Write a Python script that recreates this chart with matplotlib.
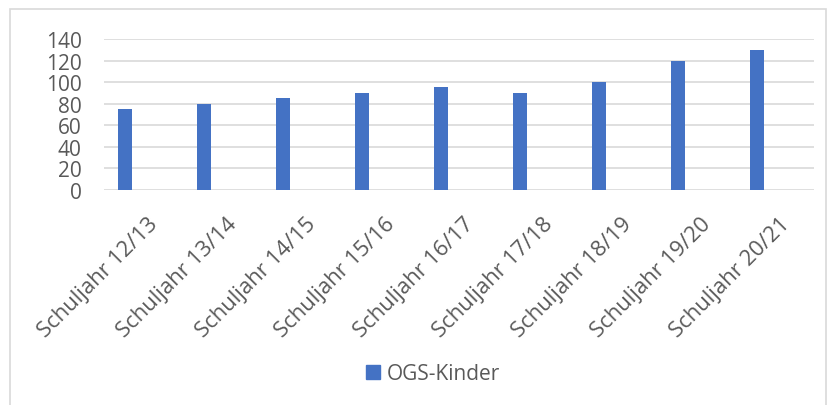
import matplotlib
matplotlib.use('Agg')
import matplotlib.pyplot as plt
import matplotlib.transforms as mtransforms
from matplotlib.patches import Rectangle, Patch

GRAY_TXT = '#595959'
GRID = '#D9D9D9'
BLUE = '#4472C4'

plt.rcParams['font.family'] = ['Open Sans', 'DejaVu Sans']

# Data
years = ['Schuljahr 12/13', 'Schuljahr 13/14', 'Schuljahr 14/15', 'Schuljahr 15/16',
         'Schuljahr 16/17', 'Schuljahr 17/18', 'Schuljahr 18/19', 'Schuljahr 19/20',
         'Schuljahr 20/21']
ogs_kinder = [75, 80, 85, 90, 95, 90, 100, 120, 130]
yticks = [0, 20, 40, 60, 80, 100, 120, 140]

fig = plt.figure(figsize=(8.31, 4.06), dpi=100)
ax = fig.add_axes([0.125, 0.5296, 0.8545, 0.372])

x = range(len(years))
ax.bar(x, ogs_kinder, width=0.17, color=BLUE, zorder=3)

ax.set_ylim(0, 140)
ax.set_xlim(-0.27, 8.72)
ax.set_yticks(yticks)
ax.yaxis.grid(True, color=GRID, linewidth=1.2, zorder=0)
for s in ax.spines.values():
    s.set_visible(False)
ax.tick_params(axis='both', length=0, labelsize=15, colors=GRAY_TXT)
ax.tick_params(axis='y', pad=16)

ax.set_xticks(list(x))
ax.set_xticklabels(years, rotation=45, ha='right', va='top', rotation_mode='anchor',
                   fontsize=15.8)
offset = mtransforms.ScaledTranslation(22 / 100, -18 / 100, fig.dpi_scale_trans)
for lab in ax.get_xticklabels():
    lab.set_transform(lab.get_transform() + offset)

# Legend
fig.legend(handles=[Patch(color=BLUE, label='OGS-Kinder')], loc='center',
           bbox_to_anchor=(433 / 831, 1 - 375 / 406), frameon=False, fontsize=15,
           labelcolor=GRAY_TXT, handlelength=0.65, handleheight=0.65, handletextpad=0.3)

# chart border
fig.patches.append(Rectangle((10 / 831, -0.01), 816 / 831, 1 - 10 / 406 + 0.01,
                             transform=fig.transFigure, fill=False,
                             edgecolor=GRID, linewidth=1.2))

fig.savefig('out.png', dpi=100)
